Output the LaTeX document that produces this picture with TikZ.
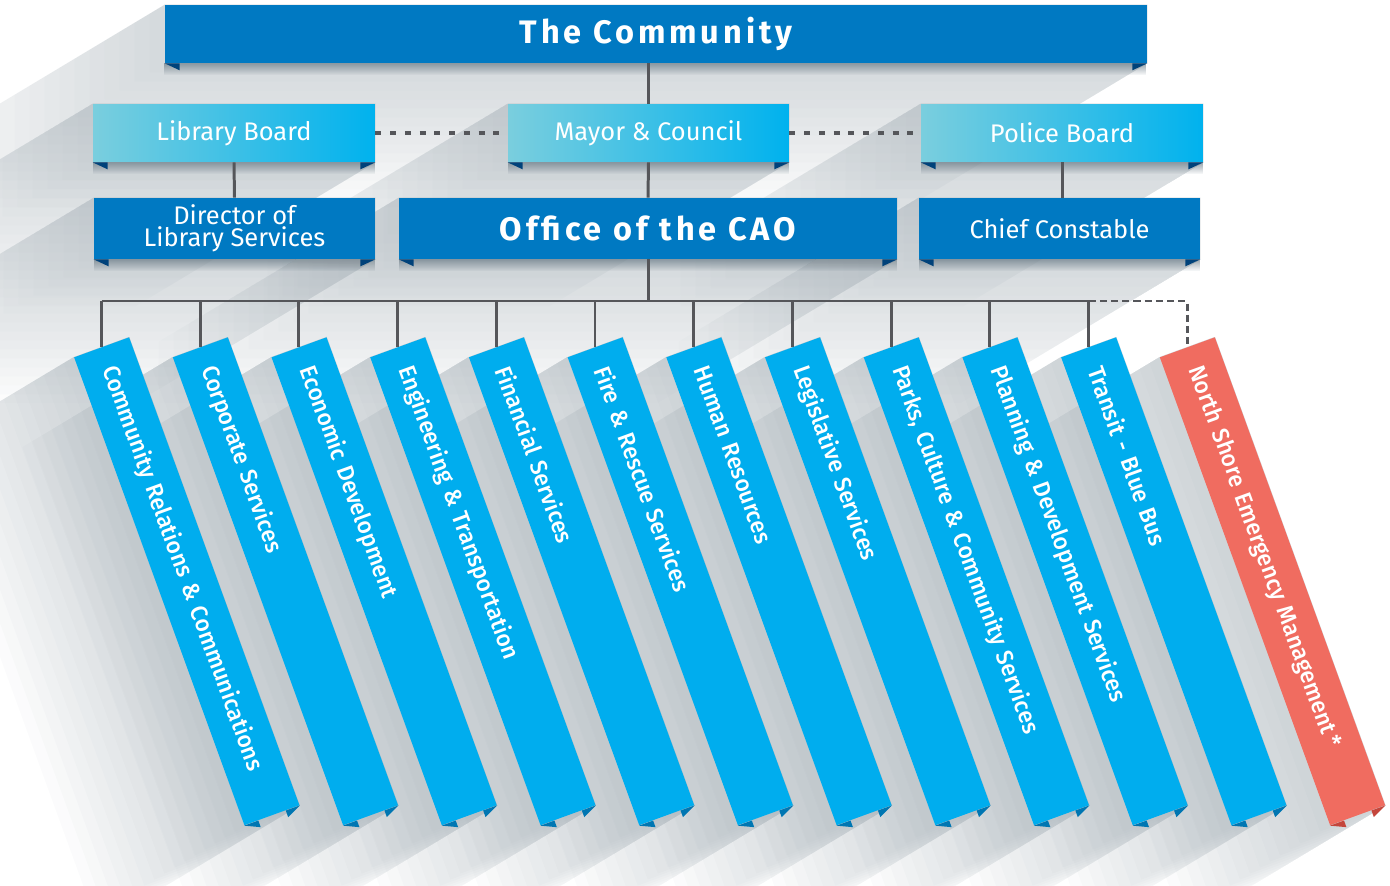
\documentclass[tikz,border=0pt]{standalone}
\usepackage{fontspec}
\setmainfont{Fira Sans}
\newfontfamily\headfont[LetterSpace=12]{Fira Sans}
\newfontfamily\medfont[FakeStretch=0.97]{Fira Sans Medium}
\usetikzlibrary{calc}
\usetikzlibrary{backgrounds}
\usetikzlibrary{fadings}
\definecolor{cdark}{RGB}{0,121,194}
\definecolor{clightl}{RGB}{122,206,222}
\definecolor{clightr}{RGB}{0,178,238}
\definecolor{cbar}{RGB}{0,173,238}
\definecolor{cred}{RGB}{240,108,96}
\definecolor{cfold}{RGB}{0,66,122}
\definecolor{cbarfold}{RGB}{0,118,178}
\definecolor{credfold}{RGB}{196,70,60}
\definecolor{cline}{RGB}{85,86,90}
\definecolor{cshade}{RGB}{150,162,170}
\definecolor{cshadedark}{RGB}{100,118,130}
\tikzfading[name=fadedown, top color=transparent!35, bottom color=transparent!100]
\tikzset{l/.style={font=\fontsize{14.5}{12.5}\selectfont}}
\tikzset{s/.style={font=\medfont\fontsize{13.4}{14}\selectfont}}
\tikzset{h/.style={font=\headfont\bfseries\fontsize{18.5}{18.5}\selectfont}}
\tikzset{box/.style={text=white, inner sep=0pt, align=center}}
\tikzset{dk/.style={box, fill=cdark, minimum height=1.22cm}}
\tikzset{lt/.style={box, left color=clightl, right color=clightr, minimum height=1.16cm}}
\tikzset{bar/.style={s, text=white, fill=cbar, rotate=-70, anchor=west, minimum width=9.96cm, minimum height=1.17cm, inner xsep=0.42cm, inner ysep=0pt, text width=9.12cm, align=left}}
\tikzset{conn/.style={cline, line width=1.7pt}}
\tikzset{dots/.style={cline, line width=2.3pt, dash pattern=on 3.4pt off 5pt}}
\tikzset{dashd/.style={cline, line width=1.7pt, dash pattern=on 4pt off 2.4pt}}
% long shadow of a box, then a soft edge right under it
\newcommand\boxshade[1]{%
  \foreach \t in {15,30,...,240}
    \fill[cshade, opacity=0.03] (#1.north west) -- ($(#1.north west)+\t*(-1,0.6)$)
      -- ($(#1.south west)+\t*(-1,0.6)$) -- ($(#1.south east)+\t*(-1,0.6)$)
      -- (#1.south east) -- (#1.north east) -- cycle;
  \fill[cshadedark, path fading=fadedown] (#1.south west) rectangle ($(#1.south east)+(0,12)$);}
% long shadow of a rotated bar
\newcommand\barshade[1]{%
  \foreach \t in {10,20,...,150}
    \fill[cshade, opacity=0.04] (#1.south west) -- ($(#1.south west)+\t*(-1,0.6)$)
      -- ($(#1.south east)+\t*(-1,0.6)$) -- ($(#1.north east)+\t*(-1,0.6)$)
      -- (#1.north east) -- (#1.north west) -- cycle;}
\newcommand\folds[1]{%
  \fill[cfold] (#1.south west) -- ++(15,0) -- ++(0,7) -- cycle;
  \fill[cfold] (#1.south east) -- ++(-15,0) -- ++(0,7) -- cycle;}
\newcommand\barfolds[2]{%
  \fill[#2] (#1.south east) -- ++(14.1,-5.1) -- ++(2.4,6.6) -- cycle;
  \fill[#2] (#1.north east) -- ++(-14.1,5.1) -- ++(2.4,6.6) -- cycle;}

\begin{document}
\begin{tikzpicture}[x=0.02cm,y=-0.02cm]
  \useasboundingbox (0,0) rectangle (1390,886);
  % boxes
  \node[dk, h, minimum width=19.64cm, minimum height=1.16cm] (comm) at (656,34) {The Community};
  \node[lt, l, minimum width=5.64cm] (libb) at (234,133) {Library Board};
  \node[lt, l, minimum width=5.62cm] (mayor) at (648.5,133) {Mayor \& Council};
  \node[lt, l, minimum width=5.64cm] (polb) at (1062,133) {Police Board};
  \node[dk, l, minimum width=5.62cm] (dirl) at (234.5,228.5) {Director of\\Library Services};
  \node[dk, h, minimum width=9.96cm] (cao) at (648,228.5) {Office of the CAO};
  \node[dk, l, minimum width=5.62cm] (chief) at (1059.5,228.5) {Chief Constable};
  \foreach \n in {comm,libb,mayor,polb,dirl,cao,chief} {\folds{\n}}
  % departments
  \node[bar] (b0) at (101.5,347) {Community Relations \& Communications};
  \node[bar] (b1) at (200.2,347) {Corporate Services};
  \node[bar] (b2) at (298.9,347) {Economic Development};
  \node[bar] (b3) at (397.6,347) {Engineering \& Transportation};
  \node[bar] (b4) at (496.3,347) {Financial Services};
  \node[bar] (b5) at (595.0,347) {Fire \& Rescue Services};
  \node[bar] (b6) at (693.7,347) {Human Resources};
  \node[bar] (b7) at (792.4,347) {Legislative Services};
  \node[bar] (b8) at (891.1,347) {Parks, Culture \& Community Services};
  \node[bar] (b9) at (989.8,347) {Planning \& Development Services};
  \node[bar] (b10) at (1088.5,347) {Transit - Blue Bus};
  \node[bar, fill=cred] (b11) at (1187.2,347) {North Shore Emergency Management\,*};
  \foreach \i in {0,...,10} {\barfolds{b\i}{cbarfold}}
  \barfolds{b11}{credfold}
  % connectors
  \draw[conn] (comm.south -| mayor.north) -- (mayor.north);
  \draw[conn] (mayor.south) -- (cao.north);
  \draw[conn] (libb.south) -- (dirl.north);
  \draw[conn] (polb.south) -- (polb.south |- chief.north);
  \draw[dots] (libb.east) -- (mayor.west);
  \draw[dots] (mayor.east) -- (polb.west);
  \coordinate (bus) at (648,301);
  \draw[conn] (cao.south) -- (bus);
  \draw[conn] (b0.west |- bus) -- (b10.west |- bus);
  \foreach \i in {0,...,10} {\draw[conn] (b\i.west |- bus) -- (b\i.west);}
  \draw[dashd] (b10.west |- bus) -- (b11.west |- bus) -- (b11.west);
  % shadows
  \begin{scope}[on background layer]
    \foreach \n in {comm,libb,mayor,polb,dirl,cao,chief} {\boxshade{\n}}
    \foreach \i in {0,...,11} {\barshade{b\i}}
  \end{scope}
\end{tikzpicture}
\end{document}
